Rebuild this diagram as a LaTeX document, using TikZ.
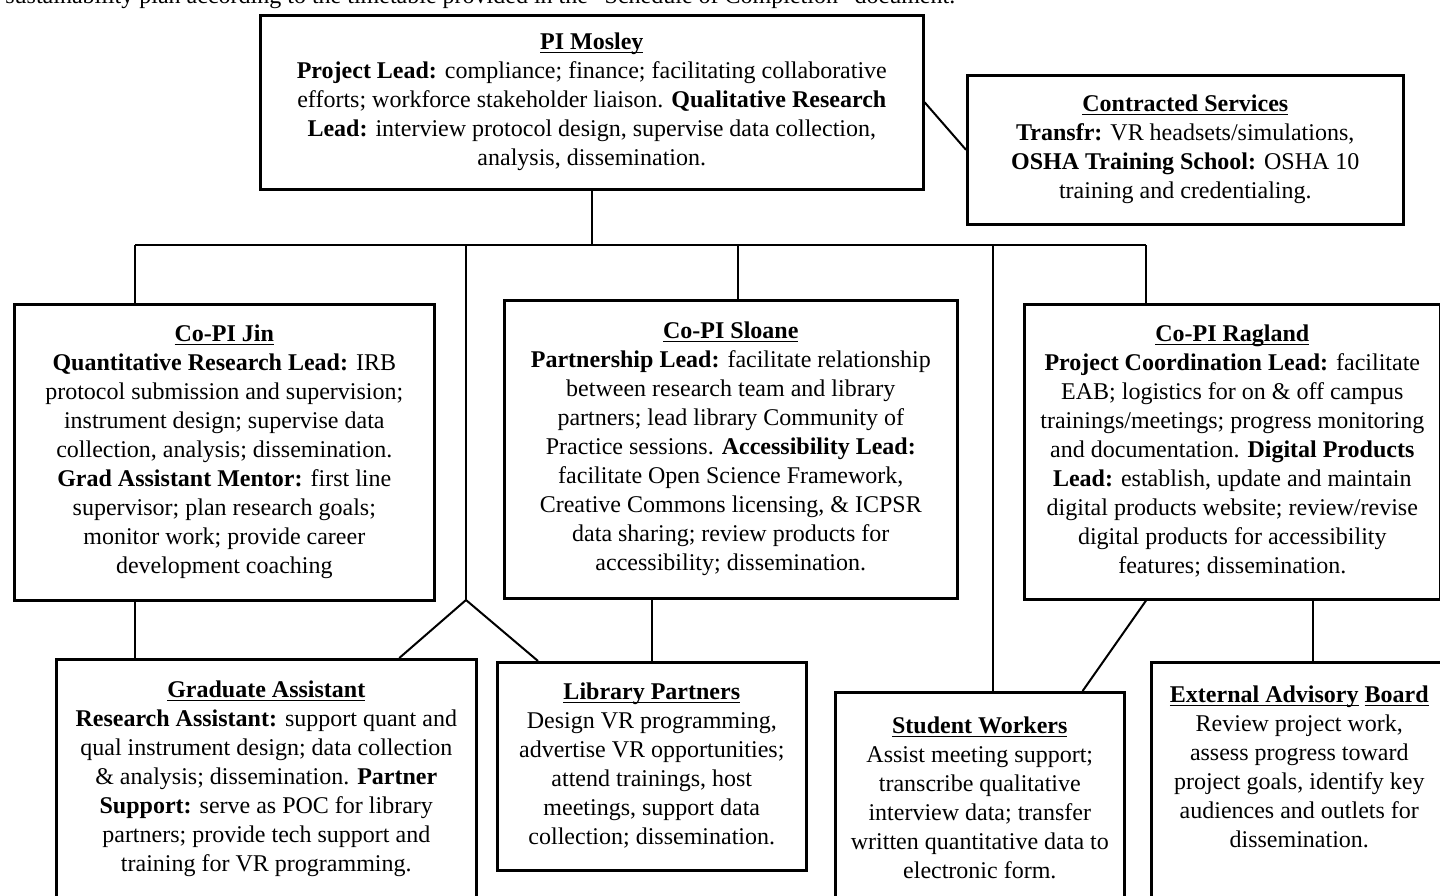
\documentclass[tikz,border=0pt]{standalone}
\usepackage{fontspec}
\setmainfont{Liberation Serif}
\usepackage{tikz}

\newcommand{\boxtitle}[1]{\underline{\smash{\textbf{#1}}}\vphantom{\textbf{Ag}}}

\begin{document}
\begin{tikzpicture}[x=0.5pt, y=-0.5pt,
    box/.style={draw, line width=1.3pt, anchor=north west, align=center, inner sep=0pt,
        font=\fontsize{12pt}{14.5pt}\selectfont},
    link/.style={line width=1pt}]

    % Page
    \fill[white] (0,0) rectangle (1440,895);
    \useasboundingbox (0,0) rectangle (1440,895);

    % Cut-off line of running text
    \node[anchor=base west, inner sep=0pt, font=\fontsize{12pt}{14.5pt}\selectfont] (runin) at (5,3)
        {sustainability plan according to the timetable provided in the ``Schedule of Completion'' document.};

    % --- TOP ROW ---
    \node[box, minimum width=331.5pt, minimum height=87pt] (pi) at (259,14) {\boxtitle{PI Mosley}\\
        \textbf{Project Lead:} compliance; finance; facilitating collaborative\\
        efforts; workforce stakeholder liaison. \textbf{Qualitative Research}\\
        \textbf{Lead:} interview protocol design, supervise data collection,\\
        analysis, dissemination.};

    \node[box, minimum width=218pt, minimum height=74.5pt] (cs) at (966,74) {\boxtitle{Contracted Services}\\
        \textbf{Transfr:} VR headsets/simulations,\\
        \textbf{OSHA Training School:} OSHA 10\\
        training and credentialing.};

    % --- CO-PI ROW ---
    \node[box, minimum width=210pt, minimum height=148pt] (jin) at (13,303) {\boxtitle{Co-PI Jin}\\
        \textbf{Quantitative Research Lead:} IRB\\
        protocol submission and supervision;\\
        instrument design; supervise data\\
        collection, analysis; dissemination.\\
        \textbf{Grad Assistant Mentor:} first line\\
        supervisor; plan research goals;\\
        monitor work; provide career\\
        development coaching};

    \node[box, minimum width=226.5pt, minimum height=149pt] (sloane) at (503,299) {\boxtitle{Co-PI Sloane}\\
        \textbf{Partnership Lead:} facilitate relationship\\
        between research team and library\\
        partners; lead library Community of\\
        Practice sessions. \textbf{Accessibility Lead:}\\
        facilitate Open Science Framework,\\
        Creative Commons licensing, \& ICPSR\\
        data sharing; review products for\\
        accessibility; dissemination.};

    \node[box, minimum width=208pt, minimum height=147.5pt] (ragland) at (1023,303) {\boxtitle{Co-PI Ragland}\\
        \textbf{Project Coordination Lead:} facilitate\\
        EAB; logistics for on \& off campus\\
        trainings/meetings; progress monitoring\\
        and documentation. \textbf{Digital Products}\\
        \textbf{Lead:} establish, update and maintain\\
        digital products website; review/revise\\
        digital products for accessibility\\
        features; dissemination.};

    % --- BOTTOM ROW ---
    \node[box, minimum width=210pt, minimum height=120pt] (grad) at (55,658) {\boxtitle{Graduate Assistant}\\
        \textbf{Research Assistant:} support quant and\\
        qual instrument design; data collection\\
        \& analysis; dissemination. \textbf{Partner}\\
        \textbf{Support:} serve as POC for library\\
        partners; provide tech support and\\
        training for VR programming.};

    \node[box, minimum width=154.5pt, minimum height=104pt] (libp) at (496,661) {\boxtitle{Library Partners}\\
        Design VR programming,\\
        advertise VR opportunities;\\
        attend trainings, host\\
        meetings, support data\\
        collection; dissemination.};

    \node[box, minimum width=144.5pt, minimum height=106pt] (student) at (834,691) {\boxtitle{Student Workers}\\
        Assist meeting support;\\
        transcribe qualitative\\
        interview data; transfer\\
        written quantitative data to\\
        electronic form.};

    \node[box, minimum width=148pt, minimum height=140pt] (eab) at (1150,661) {\boxtitle{External Advisory} \boxtitle{Board}\\
        Review project work,\\
        assess progress toward\\
        project goals, identify key\\
        audiences and outlets for\\
        dissemination.\\[21pt]\mbox{}};

    % --- CONNECTORS ---
    \coordinate (busL) at (135,245);
    \coordinate (busR) at (1146,245);
    \coordinate (dropS) at (738,245);
    \coordinate (dropW) at (993,245);
    \coordinate (fork) at (466,600);

    \draw[link] (pi.east) -- (cs.west);
    \draw[link] (pi.south) -- (pi.south |- busL);
    \draw[link] (busL) -- (busR);
    \draw[link] (busL) -- (busL |- jin.north);
    \draw[link] (dropS) -- (dropS |- sloane.north);
    \draw[link] (busR) -- (busR |- ragland.north);
    \draw[link] (dropW) -- (dropW |- student.north);
    \draw[link] (fork |- busL) -- (fork);

    \draw[link] (fork) -- ([xshift=66.5pt]grad.north);
    \draw[link] (fork) -- ([xshift=21pt]libp.north west);
    \draw[link] (busL |- jin.south) -- (busL |- grad.north);
    \draw[link] (libp.north |- sloane.south) -- (libp.north);
    \draw[link] (busR |- ragland.south) -- ([xshift=-21.5pt]student.north east);
    \draw[link] ([xshift=7pt]eab.north |- ragland.south) -- ([xshift=7pt]eab.north);

\end{tikzpicture}
\end{document}
